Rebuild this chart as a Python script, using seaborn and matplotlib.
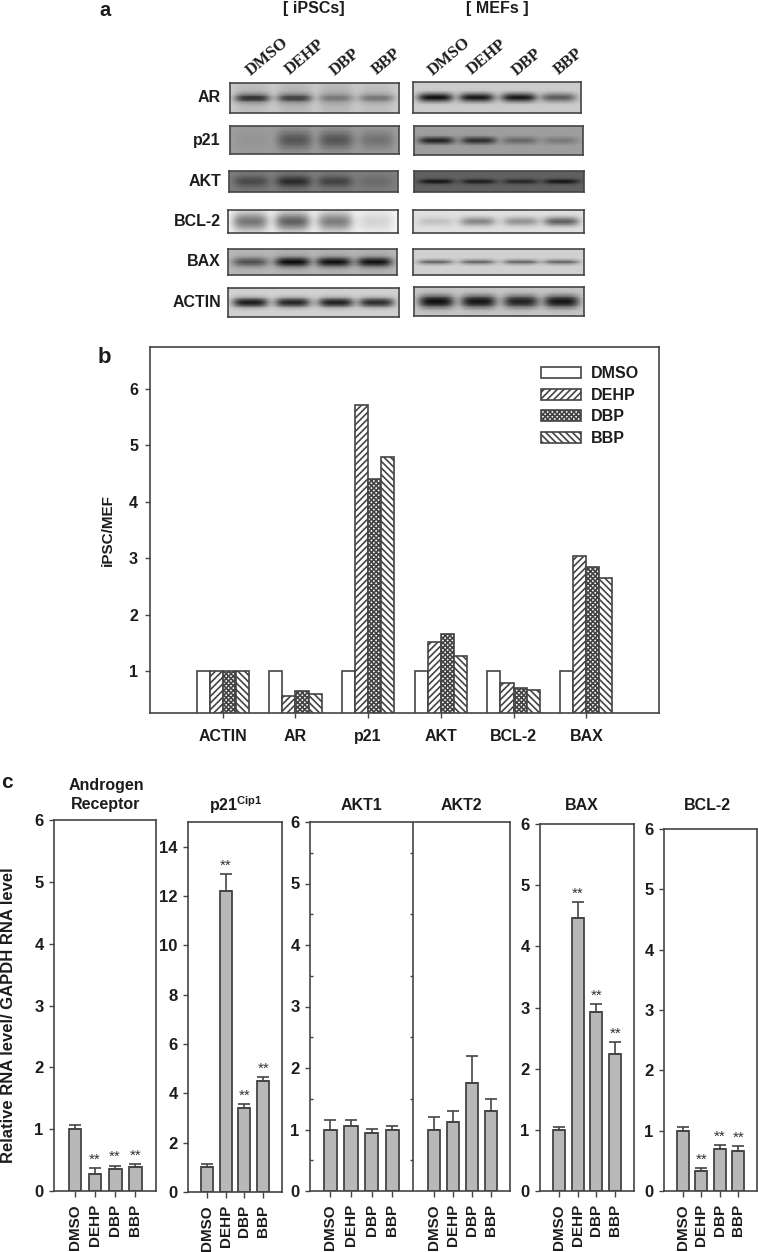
import numpy as np
import pandas as pd
import matplotlib
matplotlib.use('Agg')
import matplotlib.pyplot as plt
import seaborn as sns

W, H = 758, 1252
DARK = '#444444'
TEXT = '#1c1c1c'

treatments = ['DMSO', 'DEHP', 'DBP', 'BBP']
blot_rows = ['AR', 'p21', 'AKT', 'BCL-2', 'BAX', 'ACTIN']

# panel a, gray levels and band darkness read by eye, rows follow blot_rows
ipsc_background = [0.80, 0.62, 0.50, 0.96, 0.72, 0.82]
ipsc_bands = [[0.50, 0.42, 0.20, 0.25], [0.02, 0.20, 0.20, 0.12], [0.15, 0.25, 0.18, 0.05],
              [0.25, 0.30, 0.22, 0.05], [0.38, 0.62, 0.60, 0.60], [0.72, 0.68, 0.70, 0.65]]
ipsc_smear = [[0.10, 0.12, 0.12, 0.08], [0.02, 0.08, 0.08, 0.05], [0.06, 0.08, 0.06, 0.03],
              [0.25, 0.28, 0.25, 0.08], [0.02, 0.05, 0.05, 0.05], [0.0, 0.0, 0.0, 0.0]]
ipsc_band_height = [0.14, 0.30, 0.25, 0.30, 0.18, 0.16]

mef_background = [0.80, 0.62, 0.38, 0.88, 0.82, 0.78]
mef_bands = [[0.75, 0.72, 0.72, 0.45], [0.50, 0.45, 0.22, 0.15], [0.28, 0.25, 0.22, 0.28],
             [0.12, 0.35, 0.30, 0.50], [0.40, 0.40, 0.40, 0.40], [0.72, 0.70, 0.65, 0.70]]
mef_band_height = [0.14, 0.12, 0.13, 0.20, 0.10, 0.22]

# panel b
ratio_genes = ['ACTIN', 'AR', 'p21', 'AKT', 'BCL-2', 'BAX']
ratio_dmso = [1, 1, 1, 1, 1, 1]
ratio_dehp = [1, 0.56, 5.72, 1.51, 0.79, 3.04]
ratio_dbp = [1, 0.64, 4.41, 1.66, 0.70, 2.85]
ratio_bbp = [1, 0.59, 4.80, 1.26, 0.67, 2.65]

# panel c, bar height and top of error bar
ar_values = [1.0, 0.28, 0.36, 0.39]
ar_upper = [1.06, 0.37, 0.41, 0.43]
ar_stars = [0, 1, 1, 1]
p21_values = [1.0, 12.2, 3.4, 4.5]
p21_upper = [1.15, 12.9, 3.55, 4.65]
p21_stars = [0, 1, 1, 1]
akt1_values = [1.0, 1.05, 0.95, 1.0]
akt1_upper = [1.15, 1.15, 1.01, 1.05]
akt2_values = [1.0, 1.12, 1.75, 1.3]
akt2_upper = [1.2, 1.3, 2.2, 1.5]
bax_values = [1.0, 4.47, 2.92, 2.24]
bax_upper = [1.04, 4.73, 3.05, 2.44]
bax_stars = [0, 1, 1, 1]
bcl2_values = [1.0, 0.33, 0.70, 0.67]
bcl2_upper = [1.06, 0.38, 0.76, 0.74]
bcl2_stars = [0, 1, 1, 1]

sns.set_style('ticks')
plt.rcParams['font.family'] = ['Liberation Sans', 'DejaVu Sans']
plt.rcParams['font.weight'] = 'bold'
plt.rcParams['axes.labelweight'] = 'bold'
plt.rcParams['mathtext.fontset'] = 'custom'
plt.rcParams['mathtext.bf'] = 'Liberation Sans:bold'
plt.rcParams['mathtext.rm'] = 'Liberation Sans:bold'
plt.rcParams['hatch.linewidth'] = 1.2

fig = plt.figure(figsize=(W / 100, H / 100), dpi=100)


def add_axes(left, top, right, bottom):
    """Axes from pixel edges of the picture."""
    return fig.add_axes([left / W, 1 - bottom / H, (right - left) / W, (bottom - top) / H])


def label(x, y, s, **kw):
    kw.setdefault('color', TEXT)
    kw.setdefault('ha', 'center')
    kw.setdefault('va', 'center')
    fig.text(x / W, 1 - y / H, s, **kw)


def draw_blot(box, background, bands, band_height, smear=None):
    ax = add_axes(*box)
    x = np.linspace(0, 1, 170)
    y = np.linspace(0, 1, 36)
    lanes = [0.13, 0.38, 0.63, 0.87]
    image = np.full((36, 170), float(background))
    for i, lane in enumerate(lanes):
        lane_shape = np.exp(-((x - lane) / 0.105) ** 4)
        image -= bands[i] * np.outer(np.exp(-((y - 0.5) / band_height) ** 2), lane_shape)
        if smear is not None:
            image -= smear[i] * np.outer(np.exp(-((y - 0.5) / 0.6) ** 2), lane_shape)
    sns.heatmap(image, ax=ax, cmap='gray', vmin=0, vmax=1, cbar=False,
                xticklabels=False, yticklabels=False)
    for spine in ax.spines.values():
        spine.set_visible(True)
        spine.set_color(DARK)
        spine.set_linewidth(1.2)


# panel a
ipsc_boxes = [(230, 83, 399, 113), (230, 126, 399, 154), (229, 171, 398, 192),
              (228, 210, 398, 233), (228, 249, 397, 275), (228, 288, 399, 317)]
mef_boxes = [(413, 82, 581, 113), (414, 126, 583, 155), (414, 171, 584, 192),
             (413, 210, 584, 233), (413, 249, 584, 275), (414, 287, 584, 316)]
for i, row in enumerate(blot_rows):
    draw_blot(ipsc_boxes[i], ipsc_background[i], ipsc_bands[i], ipsc_band_height[i], ipsc_smear[i])
    draw_blot(mef_boxes[i], mef_background[i], mef_bands[i], mef_band_height[i])
    label(221, (ipsc_boxes[i][1] + ipsc_boxes[i][3]) / 2, row, ha='right', fontsize=11.5)

label(314, 9, '[ iPSCs]', fontsize=11.5)
label(497, 9, '[ MEFs ]', fontsize=11.5)
for start in (267, 449):
    for name, dx, y in zip(treatments, [0, 38, 78, 120], [57, 57, 62, 62]):
        label(start + dx, y, name, rotation=40, fontsize=12,
              family=['Liberation Serif', 'DejaVu Serif'])

# panel b
ax_b = add_axes(150, 347, 659, 713)
ratios = pd.DataFrame({
    'gene': ratio_genes * 4,
    'treatment': np.repeat(treatments, 6),
    'ratio': ratio_dmso + ratio_dehp + ratio_dbp + ratio_bbp,
})
sns.barplot(data=ratios, x='gene', y='ratio', hue='treatment', hue_order=treatments, ax=ax_b,
            palette=['white'] * 4, width=0.72, saturation=1, errorbar=None,
            edgecolor=DARK, linewidth=1.2, legend=False)
for bars, hatch in zip(ax_b.containers, [None, '/////', 'xxxxxxx', '\\\\\\\\\\']):
    for bar in bars:
        bar.set_hatch(hatch)
ax_b.set_xlim(-1, 6)
ax_b.set_ylim(0.255, 6.745)
ax_b.set_yticks([1, 2, 3, 4, 5, 6])
ax_b.set_xlabel(None)
ax_b.set_ylabel(None)
ax_b.tick_params(length=3.6, width=1, color=DARK, labelsize=11.5, labelcolor=TEXT, pad=8)
ax_b.tick_params(axis='y', pad=5)
for spine in ax_b.spines.values():
    spine.set_visible(True)
    spine.set_color(DARK)
    spine.set_linewidth(1.2)
ax_b.legend([bars[0] for bars in ax_b.containers], treatments, loc='upper left',
            bbox_to_anchor=(0.769, 0.948), frameon=False, borderpad=0, borderaxespad=0,
            fontsize=11.5, handlelength=2.45, handleheight=0.67, labelspacing=0.42,
            handletextpad=0.67, labelcolor=TEXT)
label(108, 530, 'iPSC/MEF', rotation=90, fontsize=11)

# panel c
panels = [
    ((54, 820, 156, 1191), ar_values, ar_upper, ar_stars, 6, range(0, 7), (-1.05, 4.04)),
    ((188, 822, 282, 1192), p21_values, p21_upper, p21_stars, 15, range(0, 15, 2), (-1.0, 4.0)),
    ((310, 822, 413, 1191), akt1_values, akt1_upper, None, 6, range(0, 7), (-0.98, 3.99)),
    ((415, 822, 510, 1191), akt2_values, akt2_upper, None, 6, None, (-1.02, 4.0)),
    ((540, 824, 634, 1191), bax_values, bax_upper, bax_stars, 6, range(0, 7), (-1.0, 4.0)),
    ((664, 829, 757, 1191), bcl2_values, bcl2_upper, bcl2_stars, 6, range(0, 7), (-1.0, 4.0)),
]
for box, values, upper, stars, ymax, yticks, xlim in panels:
    ax = add_axes(*box)
    sns.barplot(x=treatments, y=values, ax=ax, color='#b8b8b8', saturation=1, width=0.64,
                edgecolor=DARK, linewidth=1.3, errorbar=None)
    tops = np.array(upper) - np.array(values)
    ax.errorbar(range(4), values, yerr=[np.zeros(4), tops], fmt='none', ecolor=DARK,
                elinewidth=1.2, capsize=4.5, capthick=1.2)
    if stars is not None:
        for i, star in enumerate(stars):
            if star:
                ax.annotate('**', (i, upper[i]), xytext=(0, 1), textcoords='offset points',
                            ha='center', va='bottom', fontsize=11, color='#333333',
                            fontweight='normal')
    ax.set_xlim(*xlim)
    ax.set_ylim(0, ymax)
    ax.tick_params(axis='x', rotation=90, length=4, width=1, color=DARK, labelsize=11,
                   labelcolor=TEXT, pad=5.5)
    ax.tick_params(axis='y', length=3.5, width=1, color=DARK, labelsize=12, labelcolor=TEXT, pad=4)
    if yticks is None:
        ax.set_yticks([])
    else:
        ax.set_yticks(list(yticks))
    for spine in ax.spines.values():
        spine.set_visible(True)
        spine.set_color(DARK)
        spine.set_linewidth(1.2)
    if box[0] == 310:
        ax.set_yticks(np.arange(0.5, 6, 1), minor=True)
        ax.tick_params(axis='y', which='minor', direction='in', left=True, right=True,
                       length=2, width=1, color=DARK)
    if box[0] == 415:
        ax.spines['left'].set_visible(False)

label(106, 795, 'Androgen\nReceptor', fontsize=11.5, linespacing=1.3)
label(236, 805, r'$\mathbf{p21^{Cip1}}$', fontsize=11.5)
label(361, 805, 'AKT1', fontsize=11.5)
label(461, 805, 'AKT2', fontsize=11.5)
label(582, 805, 'BAX', fontsize=11.5)
label(707, 805, 'BCL-2', fontsize=11.5)
label(9, 1015, 'Relative RNA level/ GAPDH RNA level', rotation=90, fontsize=12)

label(111, 15.5, 'a', fontsize=14.5, ha='right', va='baseline')
label(111, 363, 'b', fontsize=16, ha='right', va='baseline')
label(13, 788, 'c', fontsize=15, ha='right', va='baseline')

fig.savefig('out.png', dpi=100)
